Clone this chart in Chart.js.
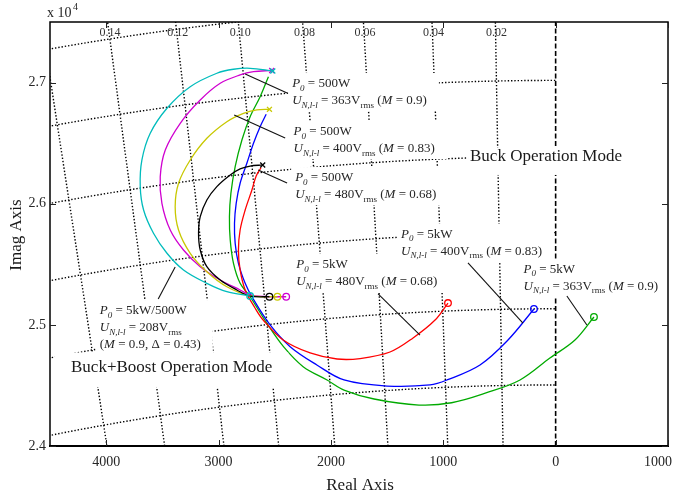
<!DOCTYPE html>
<html>
<head>
<meta charset="utf-8">
<script src="https://cdn.jsdelivr.net/npm/chart.js@4/dist/chart.umd.min.js"></script>
<style>
  html, body { margin: 0; padding: 0; background: #fff; }
  #wrap { width: 674px; height: 497px; }
</style>
</head>
<body>
<div id="wrap"><canvas id="plot" width="674" height="497"></canvas></div>
<script>
// ---- axes ----
const realTicks = [-4000, -3000, -2000, -1000, 0, 1000];
const realTickLabels = ['4000', '3000', '2000', '1000', '0', '1000'];
const imagTicks = [24000, 25000, 26000, 27000];
const imagTickLabels = ['2.4', '2.5', '2.6', '2.7'];

// ---- s-plane grid: constant damping rays (|Re|/Im) and constant natural frequency arcs ----
const dampingSlopes = [0.0195, 0.0400, 0.0622, 0.0819, 0.1027, 0.1230, 0.1450, 0.1664];
const dampingLabels = ['0.02', '0.04', '0.06', '0.08', '0.10', '0.12', '0.14'];
const naturalFreqs = [24504, 25133, 25761, 26389, 27018, 27646];

// ---- root loci [Re, Im] ----
const locus208 = [[-2517,27096],[-2719,27118],[-2867,27110],[-3015,27077],[-3252,26966],[-3459,26788],[-3608,26581],[-3682,26361],[-3697,26141],[-3667,25948],[-3579,25756],[-3459,25591],[-3312,25453],[-3104,25343],[-2926,25274],[-2719,25238]];
const locus500W363 = [[-2527,27100],[-2689,27090],[-2808,27063],[-2985,26994],[-3163,26856],[-3341,26664],[-3474,26443],[-3519,26223],[-3504,26003],[-3430,25783],[-3312,25618],[-3163,25480],[-2985,25370],[-2808,25288],[-2719,25247],[-2594,25234],[-2398,25232]];
const locus500W400 = [[-2547,26779],[-2659,26774],[-2778,26746],[-2926,26677],[-3104,26540],[-3252,26361],[-3356,26169],[-3386,25975],[-3356,25783],[-3252,25591],[-3104,25439],[-2926,25315],[-2719,25241],[-2476,25232]];
const locus500W480 = [[-2607,26320],[-2719,26311],[-2808,26287],[-2896,26237],[-3015,26141],[-3104,26031],[-3163,25893],[-3178,25756],[-3163,25618],[-3104,25480],[-2985,25370],[-2837,25288],[-2719,25238],[-2547,25232]];
const locus5k480 = [[-2621,26299],[-2665,26229],[-2703,26113],[-2763,25948],[-2808,25783],[-2823,25618],[-2808,25453],[-2763,25288],[-2674,25137],[-2603,25040],[-2425,24875],[-2185,24768],[-1945,24718],[-1740,24722],[-1474,24776],[-1269,24892],[-1073,25040],[-958,25180]];
const locus5k400 = [[-2576,26738],[-2630,26636],[-2689,26499],[-2748,26334],[-2808,26169],[-2843,26003],[-2858,25838],[-2852,25673],[-2823,25508],[-2763,25343],[-2703,25232],[-2541,24999],[-2363,24820],[-2125,24669],[-1883,24545],[-1500,24495],[-1118,24504],[-967,24545],[-673,24669],[-424,24875],[-193,25131]];
const locus5k363 = [[-2556,27049],[-2630,26883],[-2719,26718],[-2792,26526],[-2852,26306],[-2890,26086],[-2903,25893],[-2896,25701],[-2867,25508],[-2808,25343],[-2719,25232],[-2570,25013],[-2422,24820],[-2247,24655],[-2034,24545],[-1883,24462],[-1616,24388],[-1216,24338],[-926,24357],[-620,24438],[-317,24545],[-51,24726],[172,24875],[341,25065]];

const series = [
  { name: '208 V',       pts: locus208,     color: '#00bcbc', start: true },
  { name: '500 W 480 V', pts: locus500W480, color: '#000000', start: true },
  { name: '500 W 400 V', pts: locus500W400, color: '#c8c800', start: true },
  { name: '500 W 363 V', pts: locus500W363, color: '#d000d0', start: true },
  { name: '5 kW 480 V',  pts: locus5k480,   color: '#ff0000', start: false },
  { name: '5 kW 400 V',  pts: locus5k400,   color: '#0000ff', start: false },
  { name: '5 kW 363 V',  pts: locus5k363,   color: '#00aa00', start: false }
];

// ---- annotations ----
function P0(v) { return [{ t: 'P', i: 1 }, { t: '0', i: 1, s: 1 }, { t: ' = ' + v }]; }
function U(v, m) {
  const a = [{ t: 'U', i: 1 }, { t: 'N,l-l', i: 1, s: 1 }, { t: ' = ' + v + 'V' }, { t: 'rms', s: 1 }];
  if (m) a.push({ t: ' (' }, { t: 'M', i: 1 }, { t: ' = ' + m + ')' });
  return a;
}
const notes = [
  { at: [-2345, 26988], lines: [P0('500W'), U('363', '0.9')] },
  { at: [-2332, 26592], lines: [P0('500W'), U('400', '0.83')] },
  { at: [-2318, 26212], lines: [P0('500W'), U('480', '0.68')] },
  { at: [-1376, 25742], lines: [P0('5kW'), U('400', '0.83')] },
  { at: [-2309, 25494], lines: [P0('5kW'), U('480', '0.68')] },
  { at: [-286, 25453],  lines: [P0('5kW'), U('363', '0.9')] },
  { at: [-4057, 25114], lines: [P0('5kW/500W'), U('208'), [{ t: '(' }, { t: 'M', i: 1 }, { t: ' = 0.9, \u0394 = 0.43)' }]] },
  { at: [-762, 26386],  big: true, pad: [2, 10, 9, 18],   lines: [[{ t: 'Buck Operation Mode' }]] },
  { at: [-4313, 24644], big: true, pad: [16, 16, 15.5, 19], lines: [[{ t: 'Buck+Boost Operation Mode' }]] }
];
const leaders = [
  [[-2763, 27071], [-2390, 26914]],
  [[-2861, 26732], [-2407, 26543]],
  [[-2647, 26278], [-2390, 26171]],
  [[-3386, 25478], [-3537, 25213]],
  [[-1580, 25255], [-1207, 24916]],
  [[-780, 25511],  [-291, 25015]],
  [[100, 25238],   [278, 24999]]
];

const SERIF = '"Liberation Serif", "Times New Roman", serif';
const TEXT = '#262626';

function drawRich(ctx, x, y, segs, size, measureOnly) {
  let cx = x;
  for (const s of segs) {
    const fs = s.s ? Math.round(size * 0.68) : size;
    ctx.font = (s.i ? 'italic ' : '') + fs + 'px ' + SERIF;
    if (!measureOnly) ctx.fillText(s.t, cx, y + (s.s ? size * 0.32 : 0));
    cx += ctx.measureText(s.t).width;
  }
  return cx - x;
}

const sGrid = {
  id: 'sGrid',
  beforeDatasetsDraw(chart) {
    const { ctx, chartArea: a, scales: { x, y } } = chart;
    ctx.save();
    ctx.beginPath();
    ctx.rect(a.left, a.top, a.right - a.left, a.bottom - a.top);
    ctx.clip();
    ctx.strokeStyle = '#000';
    ctx.lineWidth = 1.4;
    ctx.setLineDash([1.4, 1.9]);
    for (const r of dampingSlopes) {
      ctx.beginPath();
      ctx.moveTo(x.getPixelForValue(-r * y.min), y.getPixelForValue(y.min));
      ctx.lineTo(x.getPixelForValue(-r * y.max), y.getPixelForValue(y.max));
      ctx.stroke();
    }
    for (const wn of naturalFreqs) {
      ctx.beginPath();
      let first = true;
      for (let re = x.min - 100; re <= 0; re += 25) {
        if (Math.abs(re) >= wn) continue;
        const im = Math.sqrt(wn * wn - re * re);
        const px = x.getPixelForValue(re), py = y.getPixelForValue(im);
        if (first) { ctx.moveTo(px, py); first = false; } else ctx.lineTo(px, py);
      }
      ctx.stroke();
    }
    // imaginary axis
    ctx.setLineDash([5, 2.5]);
    ctx.lineWidth = 1.6;
    ctx.beginPath();
    ctx.moveTo(x.getPixelForValue(0), y.getPixelForValue(y.min));
    ctx.lineTo(x.getPixelForValue(0), y.getPixelForValue(y.max));
    ctx.stroke();
    ctx.restore();
  }
};

const overlay = {
  id: 'overlay',
  afterDatasetsDraw(chart) {
    const { ctx, chartArea: a, scales: { x, y } } = chart;
    ctx.save();
    ctx.textBaseline = 'middle';
    ctx.textAlign = 'left';

    // white backgrounds of the text boxes first, then their text
    const lh = 17;
    const boxes = notes.map(n => {
      const size = n.big ? 17 : 13;
      const x0 = x.getPixelForValue(n.at[0]);
      const y0 = y.getPixelForValue(n.at[1]);
      let w = 0;
      for (const ln of n.lines) w = Math.max(w, drawRich(ctx, 0, 0, ln, size, true));
      return { n, size, x0, y0, w };
    });
    ctx.fillStyle = '#fff';
    for (const b of boxes) {
      const pad = b.n.pad || [4, 12, 11, 10];
      ctx.fillRect(b.x0 - pad[0], b.y0 - pad[2], b.w + pad[0] + pad[1], (b.n.lines.length - 1) * lh + pad[2] + pad[3]);
    }
    for (const b of boxes) {
      ctx.fillStyle = b.n.big ? '#1a1a1a' : TEXT;
      b.n.lines.forEach((ln, k) => drawRich(ctx, b.x0, b.y0 + k * lh, ln, b.size));
    }

    // leader lines
    ctx.strokeStyle = '#111';
    ctx.lineWidth = 1.1;
    for (const [p, q] of leaders) {
      ctx.beginPath();
      ctx.moveTo(x.getPixelForValue(p[0]), y.getPixelForValue(p[1]));
      ctx.lineTo(x.getPixelForValue(q[0]), y.getPixelForValue(q[1]));
      ctx.stroke();
    }

    // damping labels along the top
    ctx.fillStyle = '#333';
    ctx.font = '12px ' + SERIF;
    ctx.textAlign = 'center';
    const labIm = 27410;
    dampingLabels.forEach((lab, k) => {
      ctx.fillText(lab, x.getPixelForValue(-dampingSlopes[k] * labIm) + 1, y.getPixelForValue(labIm));
    });

    // frame and inward ticks
    ctx.strokeStyle = '#000';
    ctx.lineWidth = 1.5;
    ctx.strokeRect(a.left, a.top, a.right - a.left, a.bottom - a.top);
    ctx.lineWidth = 2;
    ctx.beginPath(); ctx.moveTo(a.left - 1, a.bottom); ctx.lineTo(a.right + 1, a.bottom); ctx.stroke();
    ctx.lineWidth = 1;
    ctx.strokeStyle = '#222';
    for (const v of realTicks) {
      const px = Math.round(x.getPixelForValue(v)) + 0.5;
      ctx.beginPath();
      ctx.moveTo(px, a.bottom); ctx.lineTo(px, a.bottom - 6);
      ctx.moveTo(px, a.top); ctx.lineTo(px, a.top + 6);
      ctx.stroke();
    }
    for (const v of imagTicks) {
      const py = Math.round(y.getPixelForValue(v)) + 0.5;
      ctx.beginPath();
      ctx.moveTo(a.left, py); ctx.lineTo(a.left + 6, py);
      ctx.moveTo(a.right, py); ctx.lineTo(a.right - 6, py);
      ctx.stroke();
    }

    // tick labels
    ctx.fillStyle = TEXT;
    ctx.font = '14px ' + SERIF;
    ctx.textAlign = 'center';
    realTicks.forEach((v, k) => {
      let px = x.getPixelForValue(v);
      if (k === realTicks.length - 1) px -= 10;
      ctx.fillText(realTickLabels[k], px, a.bottom + 16);
    });
    ctx.textAlign = 'right';
    imagTicks.forEach((v, k) => ctx.fillText(imagTickLabels[k], a.left - 4, y.getPixelForValue(v)));

    // exponent
    ctx.textAlign = 'left';
    ctx.fillText('x 10', a.left - 3, 13);
    ctx.font = '10px ' + SERIF;
    ctx.fillText('4', a.left + 23, 7);

    // axis titles
    ctx.font = '17px ' + SERIF;
    ctx.fillStyle = '#1a1a1a';
    ctx.textAlign = 'center';
    ctx.fillText('Real Axis', (a.left + a.right) / 2 + 1, 486);
    ctx.save();
    ctx.translate(17, 235);
    ctx.rotate(-Math.PI / 2);
    ctx.fillText('Imag Axis', 0, 0);
    ctx.restore();

    ctx.restore();
  }
};

new Chart(document.getElementById('plot'), {
  type: 'scatter',
  data: {
    datasets: series.map(s => ({
      label: s.name,
      data: s.pts.map(p => ({ x: p[0], y: p[1] })),
      showLine: true,
      borderColor: s.color,
      borderWidth: 1.3,
      tension: 0.35,
      fill: false,
      pointStyle: c => (c.dataIndex === 0 ? 'crossRot' : 'circle'),
      pointRadius: c => (c.dataIndex === 0 ? (s.start ? 3.5 : 0) : (c.dataIndex === s.pts.length - 1 ? 3.3 : 0)),
      pointHoverRadius: 0,
      pointBorderColor: s.color,
      pointBackgroundColor: 'rgba(0,0,0,0)',
      pointBorderWidth: 1.3
    }))
  },
  options: {
    responsive: false,
    animation: false,
    devicePixelRatio: 1,
    layout: { padding: { left: 50, right: 6, top: 22, bottom: 51 } },
    scales: {
      x: { type: 'linear', min: -4500, max: 1000, display: false },
      y: { type: 'linear', min: 24000, max: 27500, display: false }
    },
    plugins: { legend: { display: false }, tooltip: { enabled: false } },
    events: []
  },
  plugins: [sGrid, overlay]
});
</script>
</body>
</html>
